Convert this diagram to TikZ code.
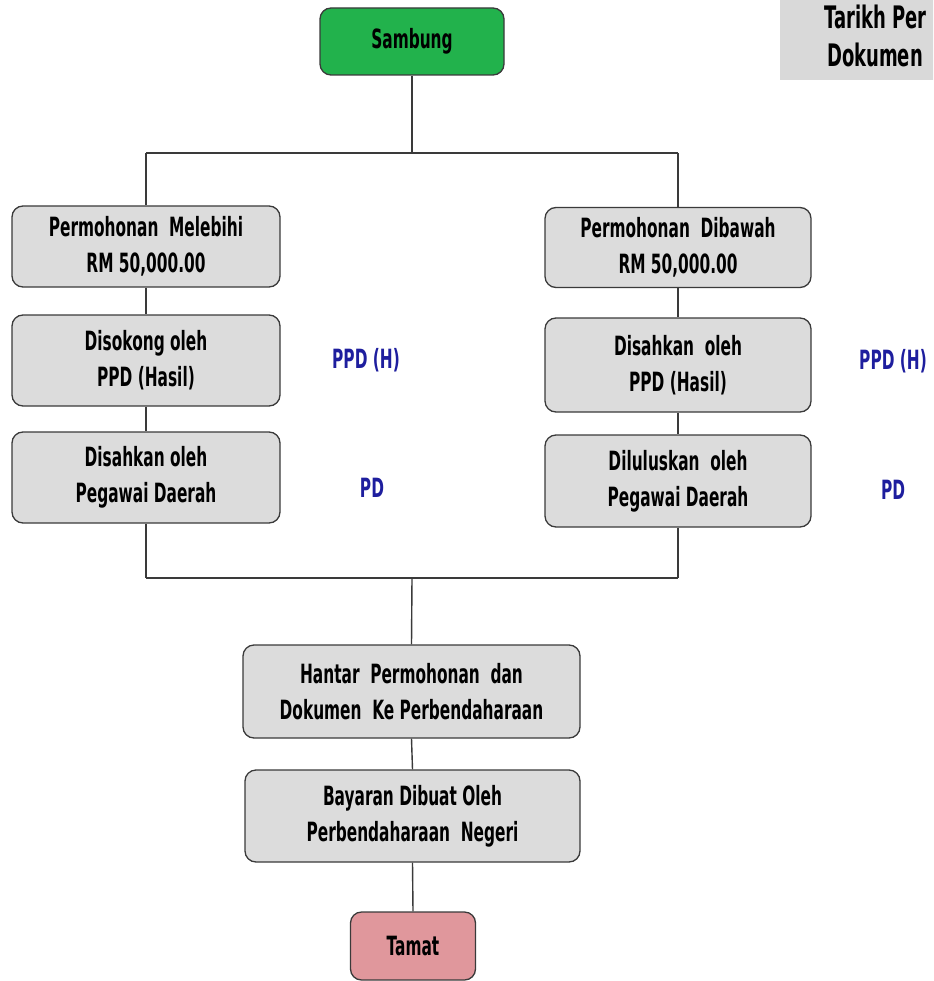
\documentclass[tikz,border=0pt]{standalone}
\usepackage{fontspec}
\setmainfont[FakeStretch=0.58]{DejaVu Sans}
\newfontfamily\boxfnt[FakeStretch=0.58]{DejaVu Sans}
\definecolor{boxgray}{HTML}{DCDCDC}
\definecolor{edgegray}{HTML}{3A3A3A}
\definecolor{sgreen}{HTML}{22B24C}
\definecolor{tpink}{HTML}{E0979C}
\definecolor{lblue}{HTML}{1E1E9E}
\definecolor{notegray}{HTML}{D9D9D9}
\begin{document}
\begin{tikzpicture}[x=1pt,y=-1pt,
  box/.style={draw=edgegray, line width=1.3pt, fill=boxgray, rounded corners=11pt,
    align=center, inner sep=0pt, font=\boxfnt\bfseries\fontsize{26.5}{36}\selectfont},
  conn/.style={draw=edgegray, line width=1.4pt},
  lab/.style={text=lblue, font=\boxfnt\bfseries\fontsize{26.5}{30}\selectfont, inner sep=0pt},
  note/.style={anchor=west, inner sep=0pt, font=\boxfnt\bfseries\fontsize{31}{35}\selectfont}]
\useasboundingbox (0,0) rectangle (933,981);
\clip (0,0) rectangle (933,981);
% note box top right
\fill[notegray] (780,-5) rectangle (940,80);
\node[note] (note1) at (824,17) {Tarikh Per};
\node[note] (note2) at (827,55) {Dokumen};
% nodes
\node[box, fill=sgreen, minimum width=184pt, minimum height=67pt] (start) at (412,41.5) {Sambung};
\node[box, minimum width=268pt, minimum height=81pt] (L1) at (146,246.5) {Permohonan\ \ Melebihi\\RM 50,000.00};
\node[box, minimum width=268pt, minimum height=91pt] (L2) at (146,360.5) {Disokong oleh\\PPD (Hasil)};
\node[box, minimum width=268pt, minimum height=91pt] (L3) at (146,477.5) {Disahkan oleh\\Pegawai Daerah};
\node[box, minimum width=266pt, minimum height=80pt] (R1) at (678,247.5) {Permohonan\ \ Dibawah\\RM 50,000.00};
\node[box, minimum width=266pt, minimum height=94pt] (R2) at (678,365) {Disahkan\ \ oleh\\PPD (Hasil)};
\node[box, minimum width=266pt, minimum height=92pt] (R3) at (678,481) {Diluluskan\ \ oleh\\Pegawai Daerah};
\node[box, minimum width=337pt, minimum height=93pt] (H) at (411.5,691.5) {Hantar\ \ Permohonan\ \ dan\\Dokumen\ \ Ke Perbendaharaan};
\node[box, minimum width=335pt, minimum height=92pt] (B) at (412.5,816) {Bayaran Dibuat Oleh\\Perbendaharaan\ \ Negeri};
\node[box, fill=tpink, minimum width=125pt, minimum height=68pt] (end) at (413,946) {Tamat};
% labels
\node[lab] (l1) at (366,360) {PPD (H)};
\node[lab] (l2) at (372,488) {PD};
\node[lab] (r1) at (893,361) {PPD (H)};
\node[lab] (r2) at (893,490) {PD};
% connectors
\coordinate (top) at (412,153);
\coordinate (topL) at (146,153);
\coordinate (topR) at (678,153);
\coordinate (bot) at (412,578);
\coordinate (botL) at (146,578);
\coordinate (botR) at (678,578);
\draw[conn] (start.south) -- (top);
\draw[conn] (topL) -- (topR);
\draw[conn] (topL) -- (L1.north);
\draw[conn] (topR) -- (R1.north);
\draw[conn] (L1.south) -- (L2.north);
\draw[conn] (L2.south) -- (L3.north);
\draw[conn] (R1.south) -- (R2.north);
\draw[conn] (R2.south) -- (R3.north);
\draw[conn] (L3.south) -- (botL);
\draw[conn] (R3.south) -- (botR);
\draw[conn] (botL) -- (botR);
\draw[conn] (bot) -- (H.north);
\draw[conn] (H.south) -- (B.north);
\draw[conn] (B.south) -- (end.north);
\end{tikzpicture}
\end{document}
